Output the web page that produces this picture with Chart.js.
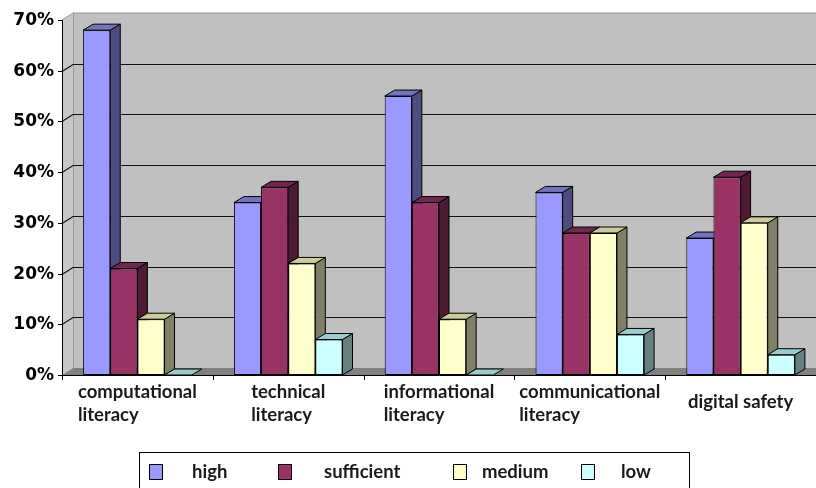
<!DOCTYPE html>
<html>
<head>
<meta charset="utf-8">
<script src="https://cdn.jsdelivr.net/npm/chart.js@4"></script>
<style>
  body { margin: 0; background: #fff; }
  #chart { display: block; }
</style>
</head>
<body>
<canvas id="chart" width="816" height="488"></canvas>
<script>
// data (percent)
const categories = [
  ["computational", "literacy"],
  ["technical", "literacy"],
  ["informational", "literacy"],
  ["communicational", "literacy"],
  ["digital safety"]
];
const seriesNames = ["high", "sufficient", "medium", "low"];
const high = [68, 34, 55, 36, 27];
const sufficient = [21, 37, 34, 28, 39];
const medium = [11, 22, 11, 28, 30];
const low = [0, 7, 0, 8, 4];
const yTicks = [0, 10, 20, 30, 40, 50, 60, 70];

// front / side / top colours per series
const fronts = ["#9999FF", "#993366", "#FFFFCC", "#CCFFFF"];
const sides = ["#4D4D80", "#4D1A33", "#808066", "#668080"];
const tops = ["#7373BF", "#732650", "#CCCC99", "#99CCCC"];

const DX = 11, DY = -7;     // depth of the walls
const BDX = 10, BDY = -6;   // depth of the bars

function poly(ctx, pts, fill, stroke) {
  ctx.beginPath();
  ctx.moveTo(pts[0][0], pts[0][1]);
  for (let i = 1; i < pts.length; i++) ctx.lineTo(pts[i][0], pts[i][1]);
  ctx.closePath();
  if (fill) { ctx.fillStyle = fill; ctx.fill(); }
  if (stroke) { ctx.strokeStyle = stroke; ctx.lineWidth = 1; ctx.stroke(); }
}

const walls = {
  id: "walls",
  beforeDatasetsDraw(chart) {
    const ctx = chart.ctx;
    const a = chart.chartArea;
    const y = chart.scales.y;
    ctx.save();
    // back wall
    poly(ctx, [[a.left + DX, a.top + DY], [a.right + DX, a.top + DY], [a.right + DX, a.bottom + DY], [a.left + DX, a.bottom + DY]], "#C0C0C0", null);
    // side wall
    poly(ctx, [[a.left, a.top], [a.left + DX, a.top + DY], [a.left + DX, a.bottom + DY], [a.left, a.bottom]], "#C8C8C8", null);
    // floor
    poly(ctx, [[a.left, a.bottom], [a.left + DX, a.bottom + DY], [a.right + DX, a.bottom + DY], [a.right, a.bottom]], "#808080", null);
    // wall edges
    ctx.strokeStyle = "#9A9A9A";
    ctx.lineWidth = 1;
    ctx.beginPath();
    ctx.moveTo(a.left, a.top);
    ctx.lineTo(a.left + DX, a.top + DY);
    ctx.lineTo(a.right + DX, a.top + DY);
    ctx.moveTo(a.left + DX + 0.5, a.top + DY);
    ctx.lineTo(a.left + DX + 0.5, a.bottom + DY);
    ctx.stroke();
    // gridlines on side and back wall
    ctx.strokeStyle = "#111";
    ctx.lineWidth = 1.2;
    yTicks.forEach(v => {
      if (v === 0 || v === yTicks[yTicks.length - 1]) return;
      const py = Math.round(y.getPixelForValue(v)) + 0.5;
      ctx.beginPath();
      ctx.moveTo(a.left, py);
      ctx.lineTo(a.left + DX, py + DY);
      ctx.lineTo(a.right + DX, py + DY);
      ctx.stroke();
    });
    // bar sides and tops, left to right so nearer faces cover
    const faces = [];
    chart.data.datasets.forEach((ds, di) => {
      chart.getDatasetMeta(di).data.forEach(el => {
        const p = el.getProps(["x", "y", "base", "width"], true);
        faces.push({ di, l: p.x - p.width / 2, r: p.x + p.width / 2, t: p.y, b: p.base });
      });
    });
    faces.sort((m, n) => m.l - n.l);
    faces.forEach(f => {
      if (f.b - f.t > 0.5) {
        poly(ctx, [[f.r, f.t], [f.r + BDX, f.t + BDY], [f.r + BDX, f.b + BDY], [f.r, f.b]], sides[f.di], "#000");
      }
      poly(ctx, [[f.l, f.t], [f.l + BDX, f.t + BDY], [f.r + BDX, f.t + BDY], [f.r, f.t]], tops[f.di], "#000");
    });
    ctx.restore();
  },
  afterDraw(chart) {
    const ctx = chart.ctx;
    const a = chart.chartArea;
    const x = chart.scales.x;
    const y = chart.scales.y;
    ctx.save();
    // axes
    ctx.strokeStyle = "#000";
    ctx.lineWidth = 1;
    ctx.beginPath();
    ctx.moveTo(a.left + 0.5, a.top);
    ctx.lineTo(a.left + 0.5, a.bottom + 0.5);
    ctx.lineTo(a.right, a.bottom + 0.5);
    ctx.stroke();
    // y ticks and labels
    ctx.font = "bold 17px 'DejaVu Sans'";
    ctx.fillStyle = "#000";
    ctx.textAlign = "right";
    ctx.textBaseline = "middle";
    yTicks.forEach(v => {
      const py = Math.round(y.getPixelForValue(v)) + 0.5;
      ctx.beginPath();
      ctx.moveTo(a.left - 4, py);
      ctx.lineTo(a.left, py);
      ctx.stroke();
      ctx.fillText(v + "%", a.left - 8, py);
    });
    // x ticks at category boundaries
    const n = categories.length;
    for (let i = 0; i < n; i++) {
      const px = Math.round(x.getPixelForValue(i) - (x.getPixelForValue(1) - x.getPixelForValue(0)) / 2) + 0.5;
      ctx.beginPath();
      ctx.moveTo(px, a.bottom);
      ctx.lineTo(px, a.bottom + 5);
      ctx.stroke();
    }
    // category labels: block centred, lines left aligned
    ctx.font = "bold 18.5px Lato";
    ctx.textAlign = "left";
    ctx.fillStyle = "#1a1a1a";
    categories.forEach((lines, i) => {
      const cx = x.getPixelForValue(i);
      const w = Math.max(...lines.map(s => ctx.measureText(s).width));
      const lh = 23;
      const y0 = lines.length === 1 ? 402 : 392;
      lines.forEach((s, k) => ctx.fillText(s, cx - w / 2, y0 + k * lh));
    });
    // legend
    ctx.strokeStyle = "#000";
    ctx.lineWidth = 1;
    ctx.strokeRect(139.5, 452.5, 550, 40);
    const mx = [149, 278, 453, 581];
    const tx = [192, 324, 482, 621];
    ctx.font = "bold 18.5px Lato";
    ctx.textBaseline = "middle";
    seriesNames.forEach((s, i) => {
      ctx.fillStyle = fronts[i];
      ctx.fillRect(mx[i] + 0.5, 464.5, 13, 15);
      ctx.strokeRect(mx[i] + 0.5, 464.5, 13, 15);
      ctx.fillStyle = "#1a1a1a";
      ctx.fillText(s, tx[i], 472);
    });
    ctx.restore();
  }
};

new Chart(document.getElementById("chart"), {
  type: "bar",
  data: {
    labels: categories,
    datasets: [high, sufficient, medium, low].map((d, i) => ({
      label: seriesNames[i],
      data: d,
      backgroundColor: fronts[i],
      borderColor: "#000",
      borderWidth: 1,
      borderSkipped: false,
      categoryPercentage: 0.72,
      barPercentage: 1.0
    }))
  },
  options: {
    responsive: false,
    animation: false,
    layout: { padding: { left: 62, top: 20, right: 0, bottom: 113 } },
    plugins: { legend: { display: false }, tooltip: { enabled: false } },
    scales: {
      x: { display: false },
      y: { display: false, min: 0, max: 70 }
    }
  },
  plugins: [walls]
});
</script>
</body>
</html>
